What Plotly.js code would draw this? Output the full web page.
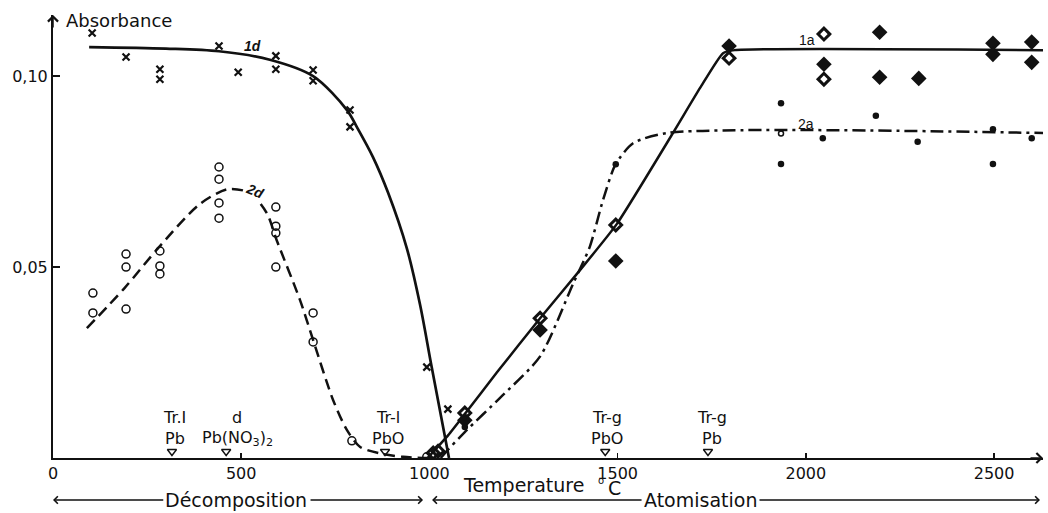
<!DOCTYPE html>
<html><head><meta charset="utf-8">
<script src="https://cdn.plot.ly/plotly-3.0.1.min.js"></script>
<style>html,body{margin:0;padding:0;background:#fff}#chart{width:1048px;height:513px}</style>
</head><body><div id="chart"></div>
<script>
// ---- axis ticks ----
const xTicks = [0, 500, 1000, 1500, 2000, 2500];
const xTickLabels = ['0', '500', '1000', '1500', '2000', '2500'];
const yTicks = [0.05, 0.10];
const yTickLabels = ['0,05', '0,10'];

// ---- 1d : crosses ----
const d1X = [104, 194, 284, 284, 441, 492, 592, 592, 691, 691, 789, 789, 993, 1049];
const d1Y = [0.1113, 0.1050, 0.1018, 0.0992, 0.1079, 0.1010, 0.1053, 0.1018, 0.1016, 0.0988, 0.0911, 0.0867, 0.0238, 0.0128];
// ---- 2d : open circles ----
const d2X = [106, 106, 194, 194, 194, 284, 284, 284, 441, 441, 441, 441, 592, 592, 592, 592, 691, 691, 794, 993];
const d2Y = [0.0432, 0.0380, 0.0534, 0.0500, 0.0390, 0.0542, 0.0503, 0.0482, 0.0762, 0.0730, 0.0668, 0.0628, 0.0657, 0.0607, 0.0589, 0.0500, 0.0380, 0.0304, 0.0045, 0.0003];
// ---- 1a : filled diamonds ----
const a1FX = [1094, 1294, 1495, 1796, 2048, 2196, 2196, 2300, 2497, 2497, 2600, 2600];
const a1FY = [0.0099, 0.0335, 0.0516, 0.1079, 0.1031, 0.1115, 0.0997, 0.0994, 0.1086, 0.1057, 0.1089, 0.1036];
// ---- 1a : open diamonds ----
const a1OX = [1010, 1023, 1094, 1294, 1495, 1796, 2048, 2048];
const a1OY = [0.0013, 0.0018, 0.0118, 0.0366, 0.0610, 0.1047, 0.1110, 0.0992];
// ---- 2a : filled dots ----
const a2X = [1094, 1495, 1934, 1934, 2045, 2186, 2297, 2497, 2497, 2600];
const a2Y = [0.0081, 0.0769, 0.0929, 0.0770, 0.0837, 0.0896, 0.0828, 0.0861, 0.0770, 0.0837];
const a2OX = [1934];
const a2OY = [0.0850];

// ---- fitted curves ----
const c1dX = [96, 300, 441, 576, 691, 781, 807, 850, 890, 940, 975, 1006, 1052];
const c1dY = [0.1076, 0.1072, 0.1065, 0.1043, 0.1000, 0.0911, 0.0867, 0.0788, 0.0695, 0.0549, 0.0402, 0.0238, 0.0];
const c2dX = [90, 190, 284, 390, 465, 523, 568, 594, 656, 691, 744, 781, 816, 869, 930, 996];
const c2dY = [0.034, 0.0445, 0.0555, 0.0665, 0.0704, 0.0694, 0.0641, 0.0571, 0.0414, 0.0309, 0.0152, 0.0073, 0.0029, 0.0012, 0.0003, 0.0];
const c1aX = [995, 1050, 1094, 1180, 1294, 1400, 1498, 1647, 1719, 1780, 1811, 2630];
const c1aY = [0.0, 0.0060, 0.0115, 0.0225, 0.0366, 0.0492, 0.0613, 0.0851, 0.0969, 0.1060, 0.1068, 0.1068];
const c2aX = [1030, 1046, 1094, 1187, 1294, 1381, 1426, 1461, 1495, 1541, 1631, 2630];
const c2aY = [0.0, 0.0018, 0.0068, 0.0157, 0.0266, 0.0455, 0.0553, 0.0675, 0.0770, 0.0824, 0.0851, 0.0851];

// ---- transitions ----
const transX = [316, 460, 882, 1467, 1740];
const transTop = ['Tr.I', 'd', 'Tr-l', 'Tr-g', 'Tr-g'];
const transBottom = ['Pb', 'Pb(NO<sub>3</sub>)<sub>2</sub>', 'PbO', 'PbO', 'Pb'];
const transShift = [3, 11, 3, 2, 4];

// ---- curve labels ----
const curveLabels = ['<i><b>1d</b></i>', '<i><b>2d</b></i>', '1a', '2a'];
const curveLabelX = [531, 537, 2003, 2000];
const curveLabelY = [0.1078, 0.0699, 0.1095, 0.0875];

const FONT = 'DejaVu Sans, Liberation Sans, Arial, sans-serif';
const FONT2 = 'Liberation Sans, Arial, sans-serif';
const K = '#111';

const traces = [
  {x: c1dX, y: c1dY, mode: 'lines', line: {color: K, width: 2.7, shape: 'spline', smoothing: 0.9}},
  {x: c2dX, y: c2dY, mode: 'lines', line: {color: K, width: 2.5, shape: 'spline', smoothing: 0.8, dash: '11px,6px'}},
  {x: c1aX, y: c1aY, mode: 'lines', line: {color: K, width: 2.5, shape: 'spline', smoothing: 0.5}},
  {x: c2aX, y: c2aY, mode: 'lines', line: {color: K, width: 2.5, shape: 'spline', smoothing: 0.7, dash: '13px,5px,3px,5px'}},
  {x: d1X, y: d1Y, mode: 'markers', marker: {symbol: 'x-thin', size: 7, line: {color: K, width: 2.2}}},
  {x: d2X, y: d2Y, mode: 'markers', marker: {symbol: 'circle-open', size: 8, color: K, line: {color: K, width: 1.5}}},
  {x: a1FX, y: a1FY, mode: 'markers', marker: {symbol: 'diamond', size: 12, color: K}},
  {x: a1OX, y: a1OY, mode: 'markers', marker: {symbol: 'diamond-open', size: 9, color: K, line: {color: K, width: 3}}},
  {x: a2X, y: a2Y, mode: 'markers', marker: {symbol: 'circle', size: 6.5, color: K}},
  {x: a2OX, y: a2OY, mode: 'markers', marker: {symbol: 'circle-open', size: 5, color: K, line: {color: K, width: 1.5}}},
  {x: transX, y: transX.map(() => 0.0017), mode: 'markers', marker: {symbol: 'triangle-down-open', size: 8, color: K, line: {color: K, width: 1.4}}}
];

const ann = [];
// axis arrowheads
ann.push({xref: 'x', yref: 'y', x: 2630, y: 0, ax: -14, ay: 0, text: '', showarrow: true, arrowhead: 4, arrowsize: 1.3, arrowwidth: 1.5, arrowcolor: K});
ann.push({xref: 'x', yref: 'y', x: 0, y: 0.116, ax: 0, ay: 14, text: '', showarrow: true, arrowhead: 4, arrowsize: 1.3, arrowwidth: 1.5, arrowcolor: K});
// Absorbance
ann.push({xref: 'paper', yref: 'paper', x: 0.011, y: 0.9887, xanchor: 'left', yanchor: 'middle', text: 'Absorbance', showarrow: false, font: {family: FONT, size: 18, color: K}});
// Temperature °C
const MID = {xref: 'x', yref: 'paper', xanchor: 'center', yanchor: 'middle', showarrow: false};
ann.push(Object.assign({}, MID, {x: 1251, y: -0.061, text: 'Temperature', font: {family: FONT, size: 19, color: K}}));
ann.push(Object.assign({}, MID, {x: 1455, y: -0.050, text: 'o', font: {family: FONT, size: 10, color: K}}));
ann.push(Object.assign({}, MID, {x: 1491, y: -0.068, text: 'C', font: {family: FONT, size: 19, color: K}}));
// Décomposition / Atomisation arrows
const ARW = {xref: 'x', yref: 'paper', text: '', showarrow: true, arrowhead: 4, arrowsize: 1.1, arrowwidth: 1.3, arrowcolor: K, ay: 0, standoff: 0, startstandoff: 0};
ann.push(Object.assign({}, ARW, {x: 0, y: -0.0948, ax: 112}));
ann.push(Object.assign({}, ARW, {x: 983, y: -0.0948, ax: -114}));
ann.push(Object.assign({}, ARW, {x: 1007, y: -0.0948, ax: 211}));
ann.push(Object.assign({}, ARW, {x: 2622, y: -0.0948, ax: -282}));
ann.push(Object.assign({}, MID, {x: 486, y: -0.0948, text: 'Décomposition', bgcolor: '#fff', font: {family: FONT, size: 19, color: K}}));
ann.push(Object.assign({}, MID, {x: 1719, y: -0.0948, text: 'Atomisation', bgcolor: '#fff', font: {family: FONT, size: 19, color: K}}));
// transitions
for (let i = 0; i < transX.length; i++) {
  ann.push({xref: 'x', yref: 'y', x: transX[i], y: 0.0105, xshift: transShift[i], text: transTop[i], showarrow: false, font: {family: FONT, size: 16, color: K}});
  ann.push({xref: 'x', yref: 'y', x: transX[i], y: 0.0050, xshift: transShift[i], text: transBottom[i], showarrow: false, font: {family: FONT, size: 16, color: K}});
}
// curve labels
for (let i = 0; i < curveLabels.length; i++) {
  ann.push({xref: 'x', yref: 'y', x: curveLabelX[i], y: curveLabelY[i], text: curveLabels[i], showarrow: false, textangle: i === 1 ? 22 : 0, bgcolor: i === 1 ? '#fff' : 'rgba(0,0,0,0)', borderpad: 0, font: {family: FONT2, size: 14, color: K}});
}

const layout = {
  width: 1048, height: 513,
  margin: {l: 53, r: 5, t: 15, b: 55},
  paper_bgcolor: '#fff', plot_bgcolor: '#fff',
  showlegend: false,
  xaxis: {range: [0, 2630], showgrid: false, zeroline: false, showline: true, linecolor: K, linewidth: 2,
          tickvals: xTicks, ticktext: xTickLabels, ticks: 'inside', ticklen: 5, tickwidth: 1.5, tickcolor: K,
          tickfont: {family: FONT, size: 16, color: K}},
  yaxis: {range: [0, 0.116], showgrid: false, zeroline: false, showline: true, linecolor: K, linewidth: 2,
          tickvals: yTicks, ticktext: yTickLabels, ticks: 'inside', ticklen: 7, tickwidth: 1.5, tickcolor: K,
          tickfont: {family: FONT, size: 16, color: K}},
  annotations: ann
};

Plotly.newPlot('chart', traces, layout, {displayModeBar: false, staticPlot: true});
</script>
</body></html>
